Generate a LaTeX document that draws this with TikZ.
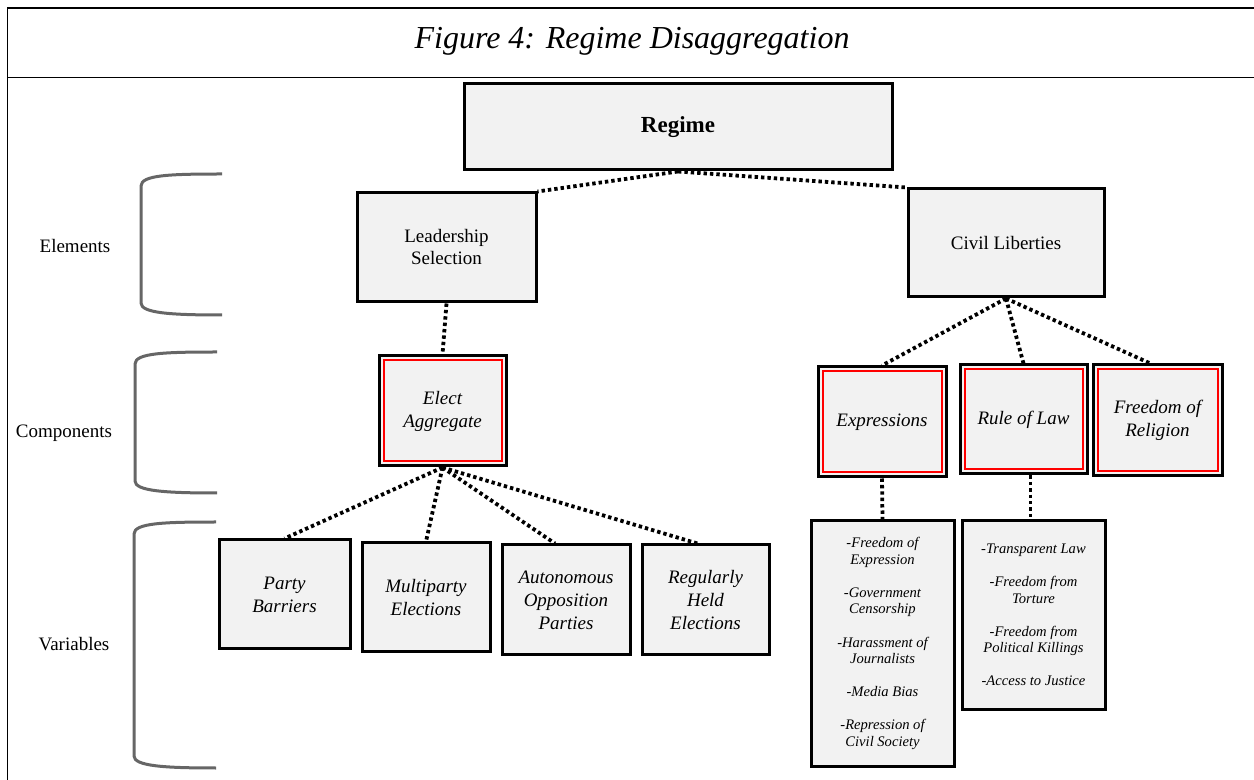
\documentclass[tikz,border=0pt]{standalone}
\usepackage{fontspec}
\setmainfont{Liberation Serif}
\begin{document}
\begin{tikzpicture}[x=0.5pt,y=-0.5pt,
  box/.style={draw=black,line width=1.5pt,fill=boxgray,inner sep=0pt,align=center,font=\fontsize{9.5}{11}\selectfont},
  itbox/.style={box,font=\fontsize{9.5}{11.5}\selectfont\itshape},
  listbox/.style={box,font=\fontsize{7.3}{8.2}\selectfont\itshape},
  conn/.style={line width=1.9pt,dash pattern=on 1.7pt off 1.5pt},
  brack/.style={draw=bracketgray,line width=1.5pt},
  lbl/.style={font=\fontsize{9.5}{11}\selectfont,inner sep=0pt},
  redin/.style={draw=red,line width=1pt}]
\definecolor{boxgray}{HTML}{F2F2F2}
\definecolor{bracketgray}{HTML}{666666}
\useasboundingbox (0,0) rectangle (1254,780);
% frame
\draw[line width=0.6pt] (1254,8) -- (7.5,8) -- (7.5,780);
\draw[line width=0.6pt] (7.5,77.5) -- (1254,77.5);
\node[font=\fontsize{16}{18}\selectfont\itshape,inner sep=0pt] (title) at (632,41) {Figure 4: Regime Disaggregation};
% nodes
\node[box,minimum width=214pt,minimum height=43pt,font=\fontsize{11.5}{13}\selectfont\bfseries] (regime) at (678,127) {\raisebox{-2pt}{Regime}};
\node[box,minimum width=89.5pt,minimum height=54.5pt] (lead) at (446.5,247.5) {Leadership\\Selection};
\node[box,minimum width=98pt,minimum height=54pt] (civil) at (1006,243) {Civil Liberties};
\node[itbox,minimum width=63.5pt,minimum height=55pt] (elect) at (442.5,411) {Elect\\Aggregate};
\node[itbox,minimum width=64pt,minimum height=55pt] (expr) at (882,422) {Expressions};
\node[itbox,minimum width=63.5pt,minimum height=54.5pt] (rule) at (1023.5,419.5) {Rule of Law};
\node[itbox,minimum width=64.5pt,minimum height=55.5pt] (relig) at (1157.5,420.5) {Freedom of\\Religion};
\foreach \n in {elect,expr,rule,relig}{
  \draw[redin] ([shift={(3pt,-3pt)}]\n.north west) rectangle ([shift={(-3pt,3pt)}]\n.south east);
}
\node[itbox,minimum width=65.5pt,minimum height=54.5pt] (party) at (284.5,594.5) {Party\\Barriers};
\node[itbox,minimum width=64pt,minimum height=54.5pt] (multi) at (426,597.5) {Multiparty\\Elections};
\node[itbox,minimum width=64pt,minimum height=55pt] (auton) at (566,600) {Autonomous\\Opposition\\Parties};
\node[itbox,minimum width=63.5pt,minimum height=55pt] (regul) at (705.5,600) {Regularly\\Held\\Elections};
\node[listbox,minimum width=71.5pt,minimum height=122.5pt] (exlist) at (882.5,643.5)
  {-Freedom of\\Expression\\[8.4pt]-Government\\Censorship\\[8.4pt]-Harassment of\\Journalists\\[8.4pt]-Media Bias\\[8.4pt]-Repression of\\Civil Society};
\node[listbox,minimum width=71.5pt,minimum height=94pt] (rllist) at (1033.5,615)
  {-Transparent Law\\[8.4pt]-Freedom from\\Torture\\[8.4pt]-Freedom from\\Political Killings\\[8.4pt]-Access to Justice};
% connectors
\draw[conn] (regime.south) -- (lead.north east);
\draw[conn] (regime.south) -- (civil.north west);
\draw[conn] (lead.south) -- (elect.north);
\foreach \t in {party,multi}{ \draw[conn] (elect.south) -- (\t.north); }
\draw[conn] (elect.south) -- ([xshift=-5.5pt]auton.north);
\draw[conn] (elect.south) -- ([xshift=-4pt]regul.north);
\draw[conn] (civil.south) -- (expr.north);
\draw[conn] (civil.south) -- (rule.north);
\draw[conn] (civil.south) -- ([xshift=-3.5pt]relig.north);
\draw[conn] (expr.south) -- (exlist.north);
\draw[conn] ([xshift=3.5pt]rule.south) -- ([xshift=-1.5pt]rllist.north);
% brackets
\draw[brack] (222,174) .. controls (170,174) and (141,175) .. (141,186) -- (141,303) .. controls (141,313) and (170,315) .. (222,315);
\draw[brack] (217,352) .. controls (165,352) and (135,353) .. (135,364) -- (135,481) .. controls (135,491) and (165,493) .. (217,493);
\draw[brack] (216,522) .. controls (164,522) and (134,523) .. (134,534) -- (134,756) .. controls (134,766) and (164,768) .. (216,768);
% labels
\node[lbl] (lel) at (75,246) {Elements};
\node[lbl] (lco) at (64,433) {Components};
\node[lbl] (lva) at (74,644) {Variables};
\end{tikzpicture}
\end{document}
